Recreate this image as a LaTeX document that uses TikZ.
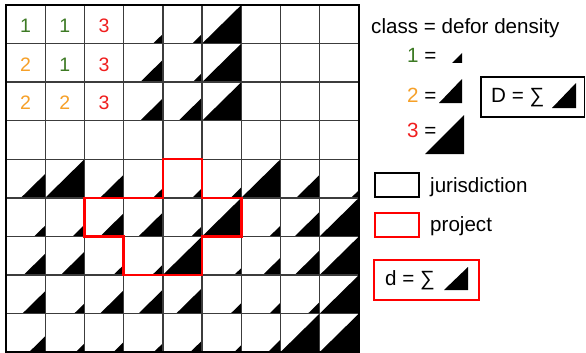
\documentclass[tikz,border=0pt]{standalone}
\usepackage{fontspec}
\setmainfont{Liberation Sans}
\definecolor{dgreen}{RGB}{61,122,36}
\definecolor{orng}{RGB}{246,160,40}
\definecolor{myred}{RGB}{240,30,30}
\definecolor{gridgray}{RGB}{60,60,60}
\begin{document}
\begin{tikzpicture}[x=1pt,y=-1pt,
  lbl/.style={font=\fontsize{20.6}{23}\selectfont, inner sep=0pt, anchor=base west},
  num/.style={font=\fontsize{19.5}{22}\selectfont, inner sep=0pt},
  tri/.style={fill=black},
  gridline/.style={draw=gridgray, line width=1.4pt},
  outerline/.style={draw=black, line width=2.4pt},
  projline/.style={draw=red, line width=2.5pt, line join=miter},
  legbox/.style={line width=1.6pt}]
\useasboundingbox (0,0) rectangle (586,353);
\fill[white] (0,0) rectangle (586,353);
\def\gx{6}\def\gy{5}\def\cw{39.22}\def\ch{38.56}
% density triangles (col/row/fraction)
\foreach \c/\r/\f in {3/0/.25, 4/0/.25, 5/0/1,
                      3/1/.58, 4/1/.24, 5/1/1,
                      3/2/.58, 4/2/.6, 5/2/1,
                      0/4/.62, 1/4/1, 2/4/.6, 3/4/.25, 4/4/.25, 5/4/.27, 6/4/1, 7/4/.6, 8/4/.2,
                      0/5/.28, 1/5/.3, 2/5/.6, 3/5/.62, 4/5/.27, 5/5/1, 6/5/.28, 7/5/.64, 8/5/1,
                      0/6/.55, 1/6/.6, 2/6/.26, 3/6/.27, 4/6/1, 5/6/.18, 6/6/.45, 7/6/.64, 8/6/1,
                      0/7/.58, 1/7/.26, 2/7/.6, 3/7/.62, 4/7/.66, 5/7/.27, 6/7/.28, 7/7/.3, 8/7/1,
                      0/8/.41, 1/8/.22, 2/8/.26, 3/8/.23, 4/8/.3, 5/8/.18, 6/8/.32, 7/8/1, 8/8/1}{
  \fill[tri] ({\gx+(\c+1-\f)*\cw},{\gy+(\r+1)*\ch}) -- ({\gx+(\c+1)*\cw},{\gy+(\r+1)*\ch})
     -- ({\gx+(\c+1)*\cw},{\gy+(\r+1-\f)*\ch}) -- cycle;
}
% grid
\foreach \i in {1,...,8}{
  \draw[gridline] ({\gx+\i*\cw},\gy) -- ({\gx+\i*\cw},{\gy+9*\ch});
  \draw[gridline] (\gx,{\gy+\i*\ch}) -- ({\gx+9*\cw},{\gy+\i*\ch});
}
\draw[outerline] (\gx,\gy) rectangle ({\gx+9*\cw},{\gy+9*\ch});
% project outline
\draw[projline] ({\gx+4*\cw},{\gy+4*\ch}) -- ({\gx+5*\cw},{\gy+4*\ch}) -- ({\gx+5*\cw},{\gy+5*\ch})
  -- ({\gx+6*\cw},{\gy+5*\ch}) -- ({\gx+6*\cw},{\gy+6*\ch}) -- ({\gx+5*\cw},{\gy+6*\ch})
  -- ({\gx+5*\cw},{\gy+7*\ch}) -- ({\gx+3*\cw},{\gy+7*\ch}) -- ({\gx+3*\cw},{\gy+6*\ch})
  -- ({\gx+2*\cw},{\gy+6*\ch}) -- ({\gx+2*\cw},{\gy+5*\ch}) -- ({\gx+4*\cw},{\gy+5*\ch}) -- cycle;
% class numbers
\foreach \c/\r/\t/\col in {0/0/1/dgreen, 1/0/1/dgreen, 2/0/3/myred,
                           0/1/2/orng, 1/1/1/dgreen, 2/1/3/myred,
                           0/2/2/orng, 1/2/2/orng, 2/2/3/myred}{
  \node[num, text=\col] (n\c\r) at ({\gx+(\c+.5)*\cw},{\gy+(\r+.5)*\ch+1.5}) {\t};
}
% legend
\node[lbl] (title) at (371,34) {class = defor density};
\node[lbl] (k1) at (407,63) {\textcolor{dgreen}{1} =};
\node[lbl] (k2) at (407,102) {\textcolor{orng}{2} =};
\node[lbl] (k3) at (407,137) {\textcolor{myred}{3} =};
\fill[tri] (452,63) -- (462,63) -- (462,53) -- cycle;
\fill[tri] (439,103) -- (462,103) -- (462,79) -- cycle;
\fill[tri] (425,154) -- (464,154) -- (464,115) -- cycle;
\draw[legbox] (481,77) rectangle (584.5,117);
\node[lbl] (Dsum) at (491,102) {D = ∑};
\fill[tri] (552,108) -- (576,108) -- (576,83) -- cycle;
\draw[legbox, draw=black] (375,173) rectangle (419,197);
\node[lbl] (jur) at (430,192) {jurisdiction};
\draw[legbox, draw=red] (375,213) rectangle (419,237);
\node[lbl] (proj) at (430,231) {project};
\draw[legbox, draw=red, line width=2pt] (374,260) rectangle (479,300);
\node[lbl] (dsum) at (385,285) {d = ∑};
\fill[tri] (444,290) -- (468,290) -- (468,267) -- cycle;
\end{tikzpicture}
\end{document}
